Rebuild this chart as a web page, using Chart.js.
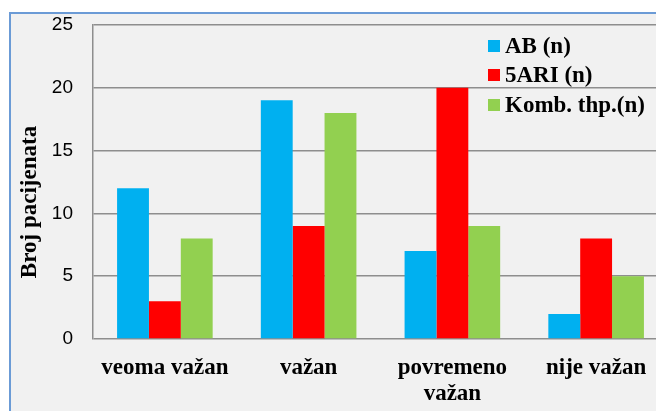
<!DOCTYPE html>
<html lang="sr">
<head>
    <meta charset="UTF-8">
    <title>Broj pacijenata</title>
    <script src="https://cdn.jsdelivr.net/npm/chart.js"></script>
    <style>
        html, body { margin: 0; padding: 0; background: #ffffff; overflow: hidden; }
        #frame {
            position: absolute; left: 9px; top: 12px; width: 720px; height: 440px;
            border-left: 2px solid #6b9bd6; border-top: 2px solid #6b9bd6;
            background: #f1f1f1;
        }
        #chartBox { position: absolute; left: 0; top: 0; }
    </style>
</head>
<body>
    <div id="frame"></div>
    <div id="chartBox">
        <canvas id="patientsChart" width="680" height="411"></canvas>
    </div>

    <script>
        // Categories and counts per therapy group
        const categories = ['veoma važan', 'važan', ['povremeno', 'važan'], 'nije važan'];
        const abValues = [12, 19, 7, 2];
        const ariValues = [3, 9, 20, 8];
        const kombValues = [8, 18, 9, 5];
        const seriesLabels = ['AB (n)', '5ARI (n)', 'Komb. thp.(n)'];
        const seriesColors = ['#00b0f0', '#ff0000', '#92d050'];
        const yTitle = 'Broj pacijenata';

        const serif = "'Liberation Serif', 'Times New Roman', serif";

        // Legend drawn inside the plot, top right
        const legendPlugin = {
            id: 'innerLegend',
            afterDraw(chart) {
                const ctx = chart.ctx;
                const rows = [46, 75, 105];
                ctx.save();
                ctx.font = 'bold 23px ' + serif;
                ctx.textBaseline = 'middle';
                ctx.textAlign = 'left';
                chart.data.datasets.forEach((ds, i) => {
                    ctx.fillStyle = ds.backgroundColor;
                    ctx.fillRect(488, rows[i] - 6, 12, 12);
                    ctx.fillStyle = '#000000';
                    ctx.fillText(ds.label, 505, rows[i] + 1);
                });
                ctx.restore();
            }
        };

        // Rotated axis title
        const yTitlePlugin = {
            id: 'yTitle',
            afterDraw(chart) {
                const ctx = chart.ctx;
                ctx.save();
                ctx.translate(30, 202);
                ctx.rotate(-Math.PI / 2);
                ctx.font = 'bold 23px ' + serif;
                ctx.fillStyle = '#000000';
                ctx.textAlign = 'center';
                ctx.textBaseline = 'middle';
                ctx.fillText(yTitle, 0, 0);
                ctx.restore();
            }
        };

        const ctx = document.getElementById('patientsChart').getContext('2d');
        new Chart(ctx, {
            type: 'bar',
            data: {
                labels: categories,
                datasets: [
                    { label: seriesLabels[0], data: abValues, backgroundColor: seriesColors[0] },
                    { label: seriesLabels[1], data: ariValues, backgroundColor: seriesColors[1] },
                    { label: seriesLabels[2], data: kombValues, backgroundColor: seriesColors[2] }
                ]
            },
            options: {
                responsive: false,
                animation: false,
                layout: { padding: { left: 0, right: 12, top: 25, bottom: 0 } },
                datasets: {
                    bar: { categoryPercentage: 0.665, barPercentage: 1.0, borderWidth: 0 }
                },
                plugins: {
                    legend: { display: false },
                    tooltip: { enabled: false }
                },
                scales: {
                    x: {
                        grid: { display: false, drawTicks: false },
                        border: { display: false },
                        ticks: {
                            color: '#000000',
                            padding: 16,
                            maxRotation: 0,
                            autoSkip: false,
                            font: { family: serif, size: 23, weight: 'bold', lineHeight: 1.13 }
                        },
                        afterFit(scale) {
                            scale.height = 72;
                            scale.paddingLeft = 0;
                            scale.paddingRight = 0;
                        }
                    },
                    y: {
                        min: 0,
                        max: 25,
                        grid: { color: '#8e8e8e', lineWidth: 1.5, drawTicks: false },
                        border: { display: true, color: '#8e8e8e', width: 1.5 },
                        ticks: {
                            stepSize: 5,
                            color: '#000000',
                            padding: 20,
                            font: { family: "'Liberation Sans', Arial, sans-serif", size: 19 }
                        },
                        afterFit(scale) {
                            scale.width = 93;
                            scale.paddingTop = 0;
                            scale.paddingBottom = 0;
                        }
                    }
                }
            },
            plugins: [legendPlugin, yTitlePlugin]
        });
    </script>
</body>
</html>
